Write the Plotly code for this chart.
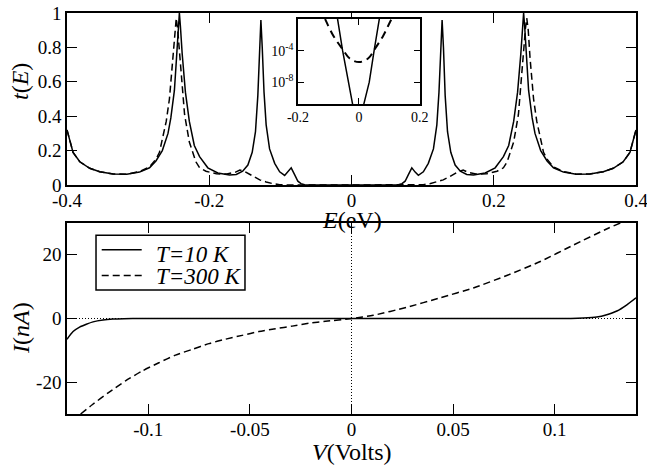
import plotly.graph_objects as go

# ---------------- data: transmission t(E) (top panel) ----------------
E_solid = [-0.400, -0.3915, -0.382, -0.368, -0.354, -0.335, -0.316, -0.298, -0.284, -0.275,
           -0.266, -0.258, -0.254, -0.249, -0.246, -0.2435, -0.242, -0.2405, -0.238, -0.2335,
           -0.228, -0.221, -0.2136, -0.202, -0.188, -0.1715, -0.162, -0.153, -0.1457, -0.1396,
           -0.135, -0.1317, -0.1293, -0.1274, -0.1255, -0.123, -0.12, -0.1152, -0.108, -0.101,
           -0.094, -0.0895, -0.0848, -0.080, -0.0754, -0.071, -0.066, -0.060, 0.0,
           0.060, 0.066, 0.071, 0.0754, 0.080, 0.0848, 0.0895, 0.094, 0.101, 0.108,
           0.1152, 0.12, 0.123, 0.1255, 0.1274, 0.1293, 0.1317, 0.135, 0.1396, 0.1457,
           0.153, 0.162, 0.1715, 0.188, 0.202, 0.2136, 0.221, 0.228, 0.2335, 0.238,
           0.2405, 0.242, 0.2435, 0.246, 0.249, 0.254, 0.258, 0.266, 0.275, 0.284,
           0.298, 0.316, 0.335, 0.354, 0.368, 0.382, 0.3915, 0.400]
t_solid = [0.32, 0.19, 0.135, 0.097, 0.077, 0.064, 0.062, 0.075, 0.10, 0.14,
           0.20, 0.30, 0.39, 0.55, 0.74, 0.92, 1.0, 0.92, 0.76, 0.54,
           0.37, 0.23, 0.165, 0.10, 0.07, 0.058, 0.061, 0.08, 0.116, 0.19,
           0.31, 0.52, 0.80, 0.96, 0.80, 0.54, 0.35, 0.21, 0.126, 0.077,
           0.056, 0.075, 0.10, 0.06, 0.022, 0.008, 0.001, 0.0, 0.0,
           0.0, 0.001, 0.008, 0.022, 0.06, 0.10, 0.075, 0.056, 0.077, 0.126,
           0.21, 0.35, 0.54, 0.80, 0.96, 0.80, 0.52, 0.31, 0.19, 0.116,
           0.08, 0.061, 0.058, 0.07, 0.10, 0.165, 0.23, 0.37, 0.54, 0.76,
           0.92, 1.0, 0.92, 0.74, 0.55, 0.39, 0.30, 0.20, 0.14, 0.10,
           0.075, 0.062, 0.064, 0.077, 0.097, 0.135, 0.19, 0.32]

E_dashed = [-0.400, -0.3915, -0.382, -0.368, -0.354, -0.335, -0.316, -0.298, -0.284, -0.275,
            -0.27, -0.2605, -0.256, -0.251, -0.2485, -0.2464, -0.2445, -0.2426, -0.2393, -0.2347,
            -0.228, -0.2188, -0.2136, -0.2046, -0.19, -0.175, -0.163, -0.157, -0.150, -0.1387,
            -0.129, -0.12, -0.11, -0.101, -0.09, 0.0,
            0.09, 0.101, 0.11, 0.12, 0.129, 0.1387, 0.150, 0.157, 0.163, 0.175,
            0.19, 0.2046, 0.2136, 0.2188, 0.228, 0.2347, 0.2393, 0.2426, 0.2445, 0.2464,
            0.2485, 0.251, 0.256, 0.2605, 0.27, 0.275, 0.284, 0.298, 0.316, 0.335,
            0.354, 0.368, 0.382, 0.3915, 0.400]
t_dashed = [0.32, 0.19, 0.135, 0.097, 0.077, 0.064, 0.063, 0.078, 0.105, 0.15,
            0.19, 0.37, 0.50, 0.74, 0.90, 0.97, 0.91, 0.81, 0.62, 0.41,
            0.25, 0.135, 0.10, 0.08, 0.065, 0.064, 0.075, 0.087, 0.078, 0.05,
            0.03, 0.018, 0.007, 0.002, 0.0, 0.0,
            0.0, 0.002, 0.007, 0.018, 0.03, 0.05, 0.078, 0.087, 0.075, 0.064,
            0.065, 0.08, 0.10, 0.135, 0.25, 0.41, 0.62, 0.81, 0.91, 0.97,
            0.90, 0.74, 0.50, 0.37, 0.19, 0.15, 0.105, 0.078, 0.063, 0.064,
            0.077, 0.097, 0.135, 0.19, 0.32]

# ---------------- inset: log10 t(E) near E = 0 ----------------
E_in_solid = [-0.09, -0.07, -0.0535, -0.035, -0.021, -0.01, 0.0, 0.008, 0.016, 0.034, 0.050, 0.067, 0.09]
log_t_in_solid = [3.0, 0.0, -4.0, -8.0, -10.8, -13.0, -14.0, -13.0, -10.8, -8.0, -4.0, 0.0, 3.0]
E_in_dashed = [-0.13, -0.111, -0.084, -0.054, -0.030, 0.0, 0.030, 0.052, 0.08, 0.107, 0.13]
log_t_in_dashed = [1.5, 0.0, -2.1, -3.8, -5.0, -5.45, -5.0, -3.8, -2.1, 0.0, 1.5]

# ---------------- I-V curves (bottom panel) ----------------
V_10K = [-0.14, -0.137, -0.1338, -0.1305, -0.1272, -0.1223, -0.1174, -0.112, -0.105, 0.0,
         0.108, 0.1141, 0.1207, 0.1256, 0.1306, 0.1355, 0.14]
I_10K = [-6.5, -4.1, -2.7, -1.8, -1.06, -0.48, -0.2, -0.07, 0.0, 0.0,
         0.0, 0.12, 0.46, 1.2, 2.35, 4.3, 6.5]
V_300K = [-0.1333, -0.1276, -0.1194, -0.1112, -0.103, -0.0948, -0.0866, -0.0784, -0.0702, -0.062,
          -0.0538, -0.0456, -0.0374, -0.0292, -0.021, -0.0128, 0.0, 0.0107, 0.0271, 0.0436,
          0.06, 0.0764, 0.0929, 0.1093, 0.1258, 0.1324]
I_300K = [-30.0, -27.1, -23.2, -19.6, -16.5, -13.9, -11.5, -9.7, -7.9, -6.5,
          -5.3, -4.1, -3.2, -2.4, -1.5, -0.9, 0.0, 1.0, 3.5, 6.5,
          9.6, 13.5, 17.9, 23.1, 28.2, 30.0]
legend_names = ["<i>T=10 K</i>", "<i>T=300 K</i>"]

top_xticks = [-0.4, -0.2, 0, 0.2, 0.4]
top_xlabels = ["-0.4", "-0.2", "0", "0.2", "0.4"]
top_yticks = [0, 0.2, 0.4, 0.6, 0.8, 1]
top_ylabels = ["0", "0.2", "0.4", "0.6", "0.8", "1"]
bot_xticks = [-0.1, -0.05, 0, 0.05, 0.1]
bot_xlabels = ["-0.1", "-0.05", "0", "0.05", "0.1"]
bot_yticks = [-20, 0, 20]
bot_ylabels = ["-20", "0", "20"]
in_xticks = [-0.2, 0, 0.2]
in_xlabels = ["-0.2", "0", "0.2"]
in_yticks = [1e-8, 1e-4]
in_ylabels = ["10<sup>-8</sup>", "10<sup>-4</sup>"]

FONT = "Liberation Serif"
BLACK = "black"
LW = 1.5
DASH = "7px,4px"

fig = go.Figure()

# top panel
fig.add_trace(go.Scatter(x=E_dashed, y=t_dashed, mode="lines", xaxis="x", yaxis="y",
                         line=dict(color=BLACK, width=LW, dash=DASH), showlegend=False))
fig.add_trace(go.Scatter(x=E_solid, y=t_solid, mode="lines", xaxis="x", yaxis="y",
                         line=dict(color=BLACK, width=LW), showlegend=False))

# inset
fig.add_trace(go.Scatter(x=E_in_dashed, y=[10 ** v for v in log_t_in_dashed], mode="lines",
                         xaxis="x3", yaxis="y3", line=dict(color=BLACK, width=2, dash="8px,5px", shape="spline"),
                         showlegend=False))
fig.add_trace(go.Scatter(x=E_in_solid, y=[10 ** v for v in log_t_in_solid], mode="lines",
                         xaxis="x3", yaxis="y3", line=dict(color=BLACK, width=LW),
                         showlegend=False))

# bottom panel
fig.add_trace(go.Scatter(x=V_10K, y=I_10K, mode="lines", xaxis="x2", yaxis="y2",
                         line=dict(color=BLACK, width=LW, shape="spline", smoothing=0.6),
                         name=legend_names[0], showlegend=False))
fig.add_trace(go.Scatter(x=V_300K, y=I_300K, mode="lines", xaxis="x2", yaxis="y2",
                         line=dict(color=BLACK, width=LW, dash=DASH, shape="spline", smoothing=0.6),
                         name=legend_names[1], showlegend=False))

common_axis = dict(showline=True, linecolor=BLACK, linewidth=LW, mirror="ticks",
                   ticks="inside", ticklen=10, tickwidth=1.2, tickcolor=BLACK,
                   showgrid=False, zeroline=False, automargin=False,
                   ticklabeloverflow="allow",
                   tickfont=dict(family=FONT, size=19, color=BLACK))

inset_axis = dict(showline=True, linecolor=BLACK, linewidth=LW, mirror="ticks",
                  ticks="inside", ticklen=6, tickwidth=1.2, tickcolor=BLACK,
                  showgrid=False, zeroline=False, automargin=False,
                  ticklabeloverflow="allow",
                  tickfont=dict(family=FONT, size=14, color=BLACK))

title_font = dict(family=FONT, size=24, color=BLACK)
legend_font = dict(family=FONT, size=23, color=BLACK)

# hand-built legend box (in bottom-panel domain coordinates)
leg_shapes = [
    dict(type="rect", xref="x2 domain", yref="y2 domain", x0=0.051, x1=0.3128, y0=0.649, y1=0.9357,
         line=dict(color=BLACK, width=1.5), fillcolor="white", layer="above"),
    dict(type="line", xref="x2 domain", yref="y2 domain", x0=0.061, x1=0.1313, y0=0.8596, y1=0.8596,
         line=dict(color=BLACK, width=LW), layer="above"),
    dict(type="line", xref="x2 domain", yref="y2 domain", x0=0.061, x1=0.1313, y0=0.7251, y1=0.7251,
         line=dict(color=BLACK, width=LW, dash=DASH), layer="above"),
]
leg_annotations = [
    dict(text=legend_names[0], xref="x2 domain", yref="y2 domain", x=0.1529, y=0.833,
         xanchor="left", yanchor="middle", showarrow=False, font=legend_font),
    dict(text=legend_names[1], xref="x2 domain", yref="y2 domain", x=0.1529, y=0.7222,
         xanchor="left", yanchor="middle", showarrow=False, font=legend_font),
]

fig.update_layout(
    template="none",
    width=647, height=466,
    margin=dict(l=67, r=11, t=0, b=0, pad=0),
    paper_bgcolor="white", plot_bgcolor="white",
    font=dict(family=FONT, color=BLACK),
    showlegend=False,
    xaxis=dict(domain=[0, 1], range=[-0.4, 0.4], anchor="y", ticklabelstandoff=-3,
               tickvals=top_xticks, ticktext=top_xlabels, **common_axis),
    yaxis=dict(domain=[0.603, 0.972], range=[0, 1], anchor="x",
               tickvals=top_yticks, ticktext=top_ylabels, **common_axis),
    xaxis2=dict(domain=[0, 1], range=[-0.14, 0.14], anchor="y2", ticklabelstandoff=-3,
                tickvals=bot_xticks, ticktext=bot_xlabels, **common_axis),
    yaxis2=dict(domain=[0.1116, 0.5215], range=[-30, 30], anchor="x2",
                tickvals=bot_yticks, ticktext=bot_ylabels, **common_axis),
    xaxis3=dict(domain=[0.406, 0.620], range=[-0.2, 0.2], anchor="y3",
                tickvals=in_xticks, ticktext=in_xlabels, **inset_axis),
    yaxis3=dict(domain=[0.777, 0.959], type="log", range=[-10.75, 0], anchor="x3",
                tickvals=in_yticks, ticktext=in_ylabels, **inset_axis),
    shapes=[
        dict(type="line", xref="x2 domain", yref="y2", x0=0, x1=1, y0=0, y1=0,
             line=dict(color=BLACK, width=1, dash="1px,2px"), layer="below"),
        dict(type="line", xref="x2", yref="y2 domain", x0=0, x1=0, y0=0, y1=1,
             line=dict(color=BLACK, width=1, dash="1px,2px"), layer="below"),
    ] + leg_shapes,
    annotations=[
        dict(text="<i>t</i>(<i>E</i>)", xref="paper", yref="paper", x=-0.0826, y=0.824,
             xanchor="center", yanchor="middle",
             textangle=-90, showarrow=False, font=title_font),
        dict(text="<i>E</i>(eV)", xref="paper", yref="paper", x=0.5, y=0.528,
             xanchor="center", yanchor="middle", showarrow=False, font=title_font),
        dict(text="<i>I</i>(<i>nA</i>)", xref="paper", yref="paper", x=-0.081, y=0.296,
             xanchor="center", yanchor="middle",
             textangle=-90, showarrow=False, font=title_font),
        dict(text="<i>V</i>(Volts)", xref="paper", yref="paper", x=0.5, y=0.03,
             xanchor="center", yanchor="middle", showarrow=False, font=title_font),
    ] + leg_annotations,
)

fig.write_html("out.html", config={"displayModeBar": False},
               post_script="document.body.style.margin='0px';document.body.style.overflow='hidden';")
